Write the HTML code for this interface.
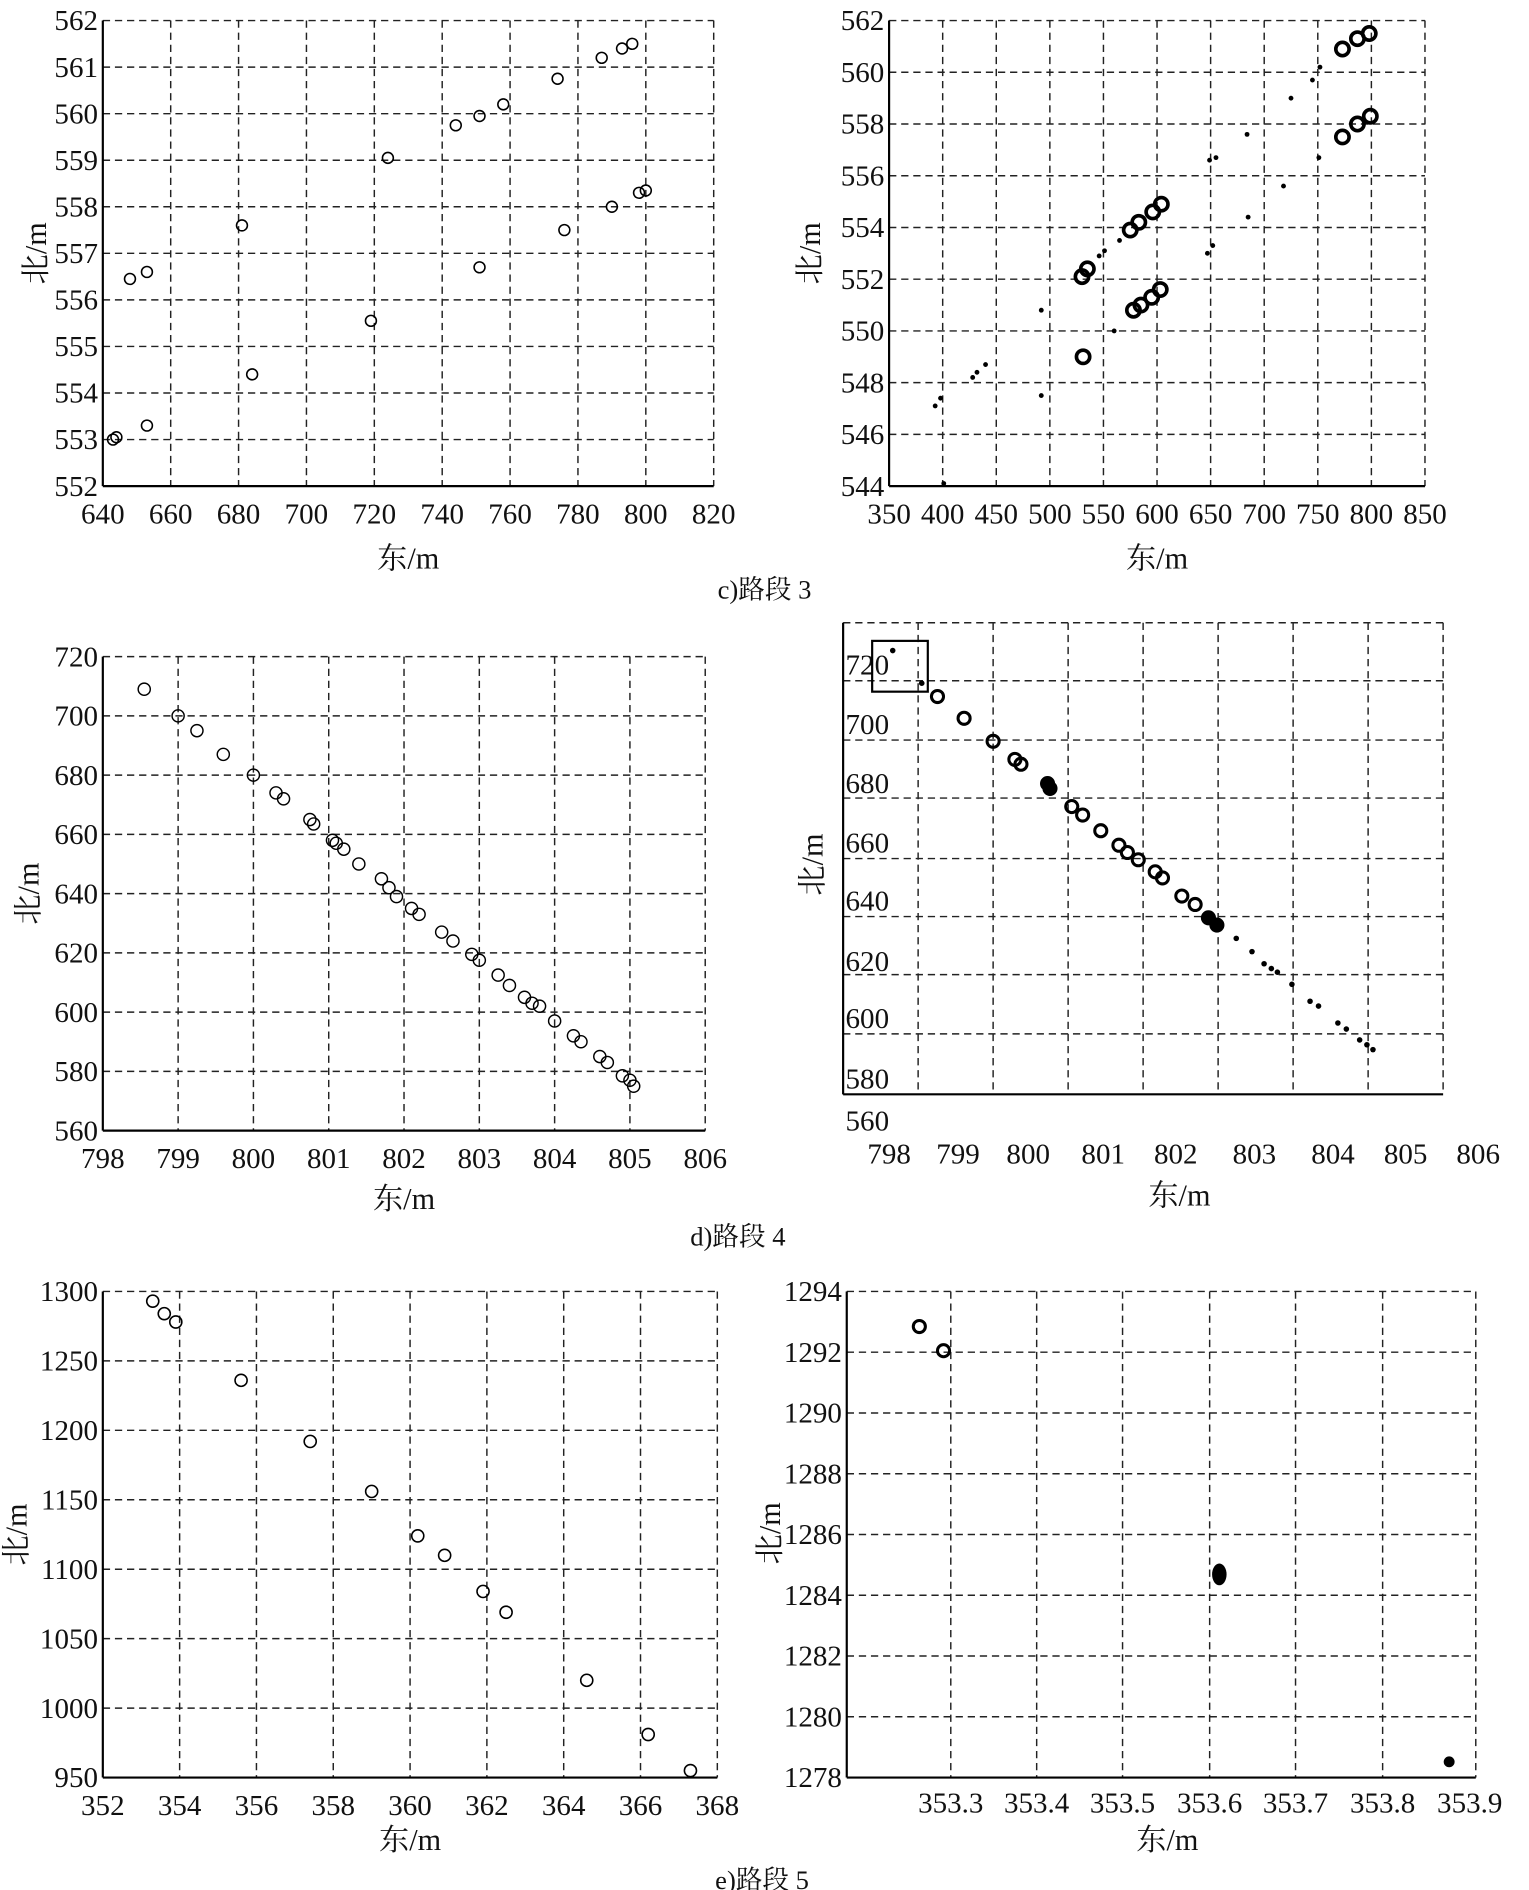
<!DOCTYPE html>
<html><head><meta charset="utf-8"><style>
html,body{margin:0;padding:0;background:#fff}
svg{display:block}
text{font-family:"Liberation Serif","Noto Serif CJK SC",serif;fill:#111}
</style></head><body>
<svg id="s" width="1529" height="1890" viewBox="0 0 1264 1563" preserveAspectRatio="none" xmlns="http://www.w3.org/2000/svg">
<text x="632" y="495" font-size="22" text-anchor="middle">c)路段 3</text>
<text x="610" y="1030" font-size="22" text-anchor="middle">d)路段 4</text>
<text x="630" y="1562" font-size="22" text-anchor="middle">e)路段 5</text>
</svg>
<script>
const S=document.getElementById('s');const NS='http://www.w3.org/2000/svg';
function el(t,a,txt){const e=document.createElementNS(NS,t);for(const k in a)e.setAttribute(k,a[k]);if(txt!==undefined)e.textContent=txt;S.appendChild(e);return e;}
function panel(o){
 const {x0,x1,y0,y1,xs,ys}=o;
 const nx=xs.length-1, ny=ys.length-1;
 for(let i=1;i<=nx;i++){const x=x0+(x1-x0)*i/nx;el('line',{x1:x,y1:y0,x2:x,y2:y1,stroke:'#222','stroke-width':1.2,'stroke-dasharray':'6 4'});}
 for(let j=1;j<=ny;j++){const y=y1-(y1-y0)*j/ny;el('line',{x1:x0,y1:y,x2:x1,y2:y,stroke:'#222','stroke-width':1.2,'stroke-dasharray':'6 4'});}
 el('line',{x1:x0,y1:y0,x2:x0,y2:y1,stroke:'#000','stroke-width':1.8});
 el('line',{x1:x0,y1:y1,x2:x1,y2:y1,stroke:'#000','stroke-width':1.8});
 xs.forEach((v,i)=>{const x=x0+(x1-x0)*i/nx;el('text',{x:x,y:y1+31,'font-size':24,'text-anchor':'middle'},v);});
 ys.forEach((v,j)=>{const y=y1-(y1-y0)*j/ny;el('text',{x:x0-4,y:y+8,'font-size':24,'text-anchor':'end'},v);});
 el('text',{x:(x0+x1)/2,y:o.xly,'font-size':25,'text-anchor':'middle'},'东/m');
 el('text',{x:0,y:0,'font-size':25,'text-anchor':'middle',transform:`translate(${o.ylx},${(y0+y1)/2}) rotate(-90)`},'北/m');
 const fx=v=>x0+(x1-x0)*(v-o.xa)/(o.xb-o.xa), fy=v=>y1-(y1-y0)*(v-o.ya)/(o.yb-o.ya);
 return [fx,fy];
}
function circ(x,y,r,sw,fill){el('circle',{cx:x,cy:y,r:r,fill:fill||'none',stroke:'#000','stroke-width':sw});}
let [fx,fy]=panel({x0:85,x1:590,y0:17,y1:402,xs:[640,660,680,700,720,740,760,780,800,820],ys:[552,553,554,555,556,557,558,559,560,561,562],xa:640,xb:820,ya:552,yb:562,xly:470,ylx:38});
[[643,553.0],[644,553.05],[648,556.45],[653,556.6],[653,553.3],[681,557.6],[684,554.4],[719,555.55],[724,559.05],[744,559.75],[751,559.95],[758,560.2],[751,556.7],[774,560.75],[776,557.5],[787,561.2],[793,561.4],[796,561.5],[790,558.0],[798,558.3],[800,558.35]].forEach(p=>circ(fx(p[0]),fy(p[1]),4.5,1.3));
[fx,fy]=panel({x0:735,x1:1178,y0:17,y1:402,xs:[350,400,450,500,550,600,650,700,750,800,850],ys:[544,546,548,550,552,554,556,558,560,562],xa:350,xb:850,ya:544,yb:562,xly:470,ylx:678});
[[531,549.0],[530,552.1],[535,552.4],[575,553.9],[583,554.2],[596,554.6],[604,554.9],[578,550.8],[585,551.0],[595,551.3],[603,551.6],[773,560.9],[787,561.3],[798,561.5],[773,557.5],[787,558.0],[799,558.3]].forEach(p=>circ(fx(p[0]),fy(p[1]),5.5,3));
[[393,547.1],[398,547.4],[401,544.1],[428,548.2],[432,548.4],[440,548.7],[492,550.8],[492,547.5],[546,552.9],[551,553.1],[565,553.5],[560,550.0],[649,556.6],[655,556.7],[647,553.0],[652,553.3],[684,557.6],[685,554.4],[718,555.6],[725,559.0],[745,559.7],[752,560.2],[751,556.7]].forEach(p=>el('circle',{cx:fx(p[0]),cy:fy(p[1]),r:2,fill:'#000'}));
[fx,fy]=panel({x0:85,x1:583,y0:543,y1:935,xs:[798,799,800,801,802,803,804,805,806],ys:[560,580,600,620,640,660,680,700,720],xa:798,xb:806,ya:560,yb:720,xly:1000,ylx:32});
[[798.55,709],[799,700],[799.25,695],[799.6,687],[800,680],[800.3,674],[800.4,672],[800.75,665],[800.8,663.5],[801.05,658],[801.1,657],[801.2,655],[801.4,650],[801.7,645],[801.8,642],[801.9,639],[802.1,635],[802.2,633],[802.5,627],[802.65,624],[802.9,619.5],[803,617.5],[803.25,612.5],[803.4,609],[803.6,605],[803.7,603],[803.8,602],[804,597],[804.25,592],[804.35,590],[804.6,585],[804.7,583],[804.9,578.5],[805,577],[805.05,575]].forEach(p=>circ(fx(p[0]),fy(p[1]),5,1.2));
(function(){const x0=697,x1=1193,y0=515,y1=905;
[759,821,883,945,1007,1069,1131,1193].forEach(x=>el('line',{x1:x,y1:y0,x2:x,y2:y1,stroke:'#222','stroke-width':1.2,'stroke-dasharray':'6 4'}));
[515,563,612,660,710,758,806,855].forEach(y=>el('line',{x1:x0,y1:y,x2:x1,y2:y,stroke:'#222','stroke-width':1.2,'stroke-dasharray':'6 4'}));
el('line',{x1:x0,y1:y0,x2:x0,y2:y1,stroke:'#000','stroke-width':1.8});el('line',{x1:x0,y1:y1,x2:x1,y2:y1,stroke:'#000','stroke-width':1.8});
[[735,798],[792,799],[850,800],[912,801],[972,802],[1037,803],[1102,804],[1162,805],[1222,806]].forEach(a=>el('text',{x:a[0],y:962,'font-size':24,'text-anchor':'middle'},a[1]));
[[558,720],[607,700],[656,680],[705,660],[753,640],[803,620],[850,600],[900,580],[935,560]].forEach(a=>el('text',{x:717,y:a[0],'font-size':24,'text-anchor':'middle'},a[1]));
el('rect',{x:721,y:530,width:46,height:42,fill:'none',stroke:'#000','stroke-width':1.8});
el('text',{x:975,y:997,'font-size':25,'text-anchor':'middle'},'东/m');
el('text',{x:0,y:0,'font-size':25,'text-anchor':'middle',transform:'translate(680,715) rotate(-90)'},'北/m');
[[775,576],[797,594],[821,613],[839,628],[844,632],[886,667],[895,674],[910,687],[925,699],[932,705],[941,711],[955,721],[961,726],[977,741],[988,748]].forEach(p=>circ(p[0],p[1],5,2.5));
[[866,648],[868,652],[999,759],[1006,765]].forEach(p=>circ(p[0],p[1],5,2.5,'#000'));
[[738,538],[762,565],[1022,776],[1035,787],[1045,797],[1051,801],[1056,804],[1068,814],[1083,828],[1090,832],[1106,846],[1113,851],[1124,860],[1130,864],[1135,868]].forEach(p=>el('circle',{cx:p[0],cy:p[1],r:2.3,fill:'#000'}));
})();
[fx,fy]=panel({x0:85,x1:593,y0:1068,y1:1470,xs:[352,354,356,358,360,362,364,366,368],ys:[950,1000,1050,1100,1150,1200,1250,1300],xa:352,xb:368,ya:950,yb:1300,xly:1530,ylx:22});
[[353.3,1293],[353.6,1284],[353.9,1278],[355.6,1236],[357.4,1192],[359,1156],[360.2,1124],[360.9,1110],[361.9,1084],[362.5,1069],[364.6,1020],[366.2,981],[367.3,955]].forEach(p=>circ(fx(p[0]),fy(p[1]),5,1.3));
(function(){const x0=700,x1=1220,y0=1068,y1=1470;
[786,857,928,1000,1071,1143].forEach(x=>el('line',{x1:x,y1:y0,x2:x,y2:y1,stroke:'#222','stroke-width':1.2,'stroke-dasharray':'6 4'}));
el('line',{x1:x1,y1:y0,x2:x1,y2:y1,stroke:'#222','stroke-width':1.2,'stroke-dasharray':'6 4'});
const ys=[1278,1280,1282,1284,1286,1288,1290,1292,1294];
ys.forEach((v,j)=>{const y=y1-(y1-y0)*j/8;if(j>0)el('line',{x1:x0,y1:y,x2:x1,y2:y,stroke:'#222','stroke-width':1.2,'stroke-dasharray':'6 4'});el('text',{x:x0-4,y:y+8,'font-size':24,'text-anchor':'end'},v);});
el('line',{x1:x0,y1:y0,x2:x0,y2:y1,stroke:'#000','stroke-width':1.8});el('line',{x1:x0,y1:y1,x2:x1,y2:y1,stroke:'#000','stroke-width':1.8});
[[786,'353.3'],[857,'353.4'],[928,'353.5'],[1000,'353.6'],[1071,'353.7'],[1143,'353.8'],[1215,'353.9']].forEach(a=>el('text',{x:a[0],y:y1+29,'font-size':24,'text-anchor':'middle'},a[1]));
el('text',{x:965,y:1530,'font-size':25,'text-anchor':'middle'},'东/m');
el('text',{x:0,y:0,'font-size':25,'text-anchor':'middle',transform:'translate(645,1268) rotate(-90)'},'北/m');
circ(760,1097,5,2.5);circ(780,1117,5,2.5);
el('ellipse',{cx:1008,cy:1302,rx:6,ry:9,fill:'#000'});
el('circle',{cx:1198,cy:1457,r:4.5,fill:'#000'});
})();
</script>
</body></html>
